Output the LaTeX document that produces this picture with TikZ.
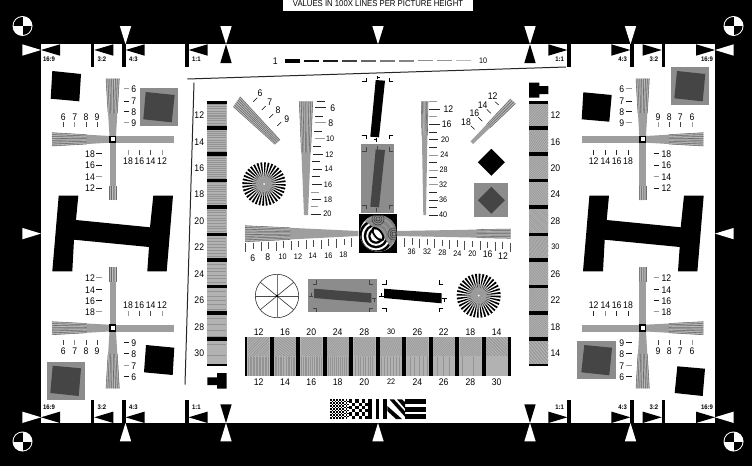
\documentclass[tikz,border=0pt]{standalone}
\usepackage{fontspec}
\usepackage{graphicx}
\setmainfont{Liberation Sans}[FakeStretch=0.9]
\usetikzlibrary{calc}
\definecolor{chart}{gray}{.62}
\definecolor{panel}{gray}{.55}
\definecolor{inner}{gray}{.27}
\newcount\nn
\tikzset{
  numlab/.style={inner sep=0pt,font=\fontsize{9.6}{10}\selectfont,text=black},
  smalllab/.style={inner sep=0pt,font=\fontsize{8}{9}\selectfont,text=black},
  ratlab/.style={inner sep=0pt,font=\fontsize{6.6}{7}\selectfont\bfseries,text=black},
  tickln/.style={line width=.75pt},
  framel/.style={line width=1pt,black!85},
  markk/.style={line width=.8pt},
}
\newcommand\lbl[4][numlab]{\global\advance\nn by 1 \node[#1] (n\the\nn) at (#2,#3) {#4};}
\newcommand\hrow[4]{\foreach \px/\tx/\sh in {#1}{\lbl{\px}{#2}{\tx}\draw[tickln,black!\sh] (\px,#3) -- (\px,#4);}}
\newcommand\vrow[4]{\foreach \py/\tx/\sh in {#1}{\lbl{#2}{\py}{\tx}\draw[tickln,black!\sh] (#3,\py) -- (#4,\py);}}
\newcommand\regmark[2]{%
  \fill[white] (#1,#2) circle (10pt);
  \begin{scope}\clip (#1,#2) circle (9pt);
    \fill[black] (#1-10,#2-10) rectangle (#1,#2);
    \fill[black] (#1,#2) rectangle (#1+10,#2+10);
  \end{scope}}
\newcommand\cwedge[6]{%
  \coordinate (wa) at #1; \coordinate (wb) at #2; \coordinate (wc) at #3; \coordinate (wd) at #4;
  \fill[chart] (wa)--(wb)--(wc)--(wd)--cycle;
  \foreach \k in {0,...,#5}{%
    \pgfmathsetmacro\tv{\k/#5}
    \pgfmathtruncatemacro\md{mod(\k,2)}
    \pgfmathtruncatemacro\sh{\md==0?58:25}
    \coordinate (wp) at ($(wa)!\tv!(wb)$);
    \coordinate (wq) at ($(wd)!\tv!(wc)$);
    \draw[line width=.55pt,black!\sh] (wp) -- ($(wp)!#6!(wq)$);}}
\newcommand\hcell[6]{%
  \begin{scope}
    \clip (#1,#2) rectangle (#3,#4);
    \fill[black!42] (#1,#2) rectangle (#3,#4);
    \pgfmathsetmacro\cxx{(#1+#3)/2}
    \pgfmathsetmacro\cyy{(#2+#4)/2}
    \pgfmathtruncatemacro\nl{30/#6}
    \begin{scope}[shift={(\cxx,\cyy)},rotate=#5]
      \foreach \k in {-\nl,...,\nl}{\draw[line width=#6*.5pt,black!30] (-40,\k*#6) -- (40,\k*#6);}
    \end{scope}
  \end{scope}}
\newcommand\sstar[3]{%
  \fill[white] (#1,#2) circle (#3 pt);
  \foreach \a in {0,10,...,350}{%
    \fill[black] (#1,#2) -- ({#1+#3*cos(\a)},{#2+#3*sin(\a)}) -- ({#1+#3*cos(\a+5)},{#2+#3*sin(\a+5)}) -- cycle;}
  \fill[chart,opacity=.55] (#1,#2) circle (12pt);
  \fill[chart,opacity=.9] (#1,#2) circle (8pt);
  \fill[white] (#1,#2) circle (1pt);}
\newcommand\cmk[5]{\draw[markk,#5] (#1+#3,#2) -- (#1,#2) -- (#1,#2+#4);}
\newcommand\centerbox[2]{\fill[black] (#1-3.7,#2-3.7) rectangle (#1+3.7,#2+3.7);\fill[white] (#1-2,#2-2) rectangle (#1+2,#2+2);}
\begin{document}
\begin{tikzpicture}[x=1pt,y=-1pt]
\useasboundingbox (0,0) rectangle (752,466);
\fill[black] (0,0) rectangle (752,466);
\fill[white] (41,44.3) rectangle (715,423);
% banner
\fill[white] (283,0) rectangle (472.7,10.7);
\lbl[inner sep=0pt,font=\fontsize{8.6}{9}\selectfont]{378}{4}{VALUES IN 100X LINES PER PICTURE HEIGHT}
% registration marks
\regmark{22.5}{26} \regmark{733.5}{26} \regmark{22.5}{441.5} \regmark{733.5}{441.5}
% outer white triangles, top and bottom
\foreach \px in {125.5,226,378,530,630.5}{%
  \fill[white] (\px-5.7,26) -- (\px+5.7,26) -- (\px,44.3) -- cycle;
  \fill[white] (\px-5.7,441.4) -- (\px+5.7,441.4) -- (\px,423) -- cycle;}
\foreach \px in {226,530}{%
  \fill[black] (\px-5.7,63) -- (\px+5.7,63) -- (\px,44.3) -- cycle;
  \fill[black] (\px-5.7,404.3) -- (\px+5.7,404.3) -- (\px,423) -- cycle;}
% side triangles
\foreach \py in {50,233.6,417.3}{%
  \fill[white] (22.3,\py-5.7) -- (22.3,\py+5.7) -- (41,\py) -- cycle;
  \fill[white] (733.7,\py-5.7) -- (733.7,\py+5.7) -- (715,\py) -- cycle;}
% format marks
\foreach \py/\ly/\bb/\be in {50/59/44.3/67.3,417.3/407.7/400/423}{%
  \fill[black] (41,\py) -- (60,\py-5.7) -- (60,\py+5.7) -- cycle;
  \fill[black] (715,\py) -- (696,\py-5.7) -- (696,\py+5.7) -- cycle;
  \lbl[ratlab]{49}{\ly}{16:9}
  \lbl[ratlab]{707}{\ly}{16:9}
  \foreach \bx/\tx in {91/3:2,122.3/4:3,185.3/1:1}{%
    \fill[black] (\bx,\bb) rectangle (\bx+3.3,\be);
    \fill[black] (\bx+3.3,\py) -- (\bx+22.3,\py-5.7) -- (\bx+22.3,\py+5.7) -- cycle;
    \lbl[ratlab]{\bx+11}{\ly}{\tx}
    \fill[black] (756-\bx,\bb) rectangle (756-\bx-3.3,\be);
    \fill[black] (756-\bx-3.3,\py) -- (756-\bx-22.3,\py-5.7) -- (756-\bx-22.3,\py+5.7) -- cycle;
    \lbl[ratlab]{756-\bx-11}{\ly}{\tx}}}
% scale row
\lbl{275.3}{61}{1}
\lbl[smalllab]{483}{61}{10}
\foreach \i/\w/\sh in {0/3.6/100,1/1.7/95,2/1.3/90,3/1.2/75,4/1.2/60,5/1.2/52,6/1.2/48,7/1.1/45,8/1.1/42,9/1.1/28}{%
  \draw[line width=\w pt,black!\sh] (285+19*\i,60.9) -- (300+19*\i,60.9);}
% frame lines
\draw[framel] (187.3,79) -- (566,67);
\draw[framel] (194,82.7) -- (185,384.7);
% big H shapes
\foreach \dx in {0,530.7}{%
  \fill[black] (58.7+\dx,195.7) -- (78.3+\dx,195.7) -- (76+\dx,220) -- (150+\dx,227.3) -- (153.3+\dx,195.7) -- (173+\dx,195.7) -- (166.7+\dx,271.3) -- (147.3+\dx,271.3) -- (149+\dx,247) -- (74+\dx,239.7) -- (72.3+\dx,271.3) -- (52.3+\dx,271.3) -- cycle;}
% ---- top-left quadrant
\fill[black] (52.3,71) -- (81,74) -- (79.3,101.3) -- (50.7,98.7) -- cycle;
\fill[panel] (140,88) rectangle (178,126);
\fill[inner] (145.7,92) -- (174.7,95) -- (171.7,122.3) -- (143.3,119.3) -- cycle;
\cwedge{(106,78.7)}{(119.3,78.7)}{(116,136)}{(109.5,136)}{14}{.6}
\cwedge{(109.5,200)}{(116,200)}{(116,143)}{(109.5,143)}{6}{.25}
\cwedge{(52,132.7)}{(52,146)}{(109.5,142.7)}{(109.5,136)}{14}{.6}
\fill[chart] (116,136) rectangle (174,142.7);
\centerbox{112.7}{139.3}
\hrow{63.3/6/75,74.7/7/45,86/8/75,97/9/75}{116.7}{122}{127}
\hrow{128/18/40,139.3/16/70,150.7/14/70,162/12/40}{160.7}{150.3}{155.3}
\vrow{88.7/6/40,101/7/90,111.7/8/90,122.7/9/40}{133.7}{123.7}{129.3}
\vrow{153.7/18/90,165/16/90,176.7/14/40,188/12/90}{90}{96}{101.7}
% ---- top-right quadrant
\fill[black] (583.3,92.3) -- (611.7,95) -- (609.3,121.7) -- (581.7,119.3) -- cycle;
\fill[panel] (670.7,67.3) rectangle (708.7,105);
\fill[inner] (677,71) -- (705.3,74) -- (702.7,101.3) -- (674.3,98.3) -- cycle;
\cwedge{(636,78.7)}{(649.3,78.7)}{(646,136)}{(639.3,136)}{14}{.6}
\cwedge{(639.3,200)}{(646,200)}{(646,143)}{(639.3,143)}{6}{.25}
\cwedge{(703.3,132.7)}{(703.3,146)}{(646,142.7)}{(646,136)}{14}{.6}
\fill[chart] (582,136) rectangle (639.3,142.7);
\centerbox{642.7}{139.3}
\hrow{658/9/40,669.3/8/75,680.3/7/75,692/6/40}{116.7}{122}{127}
\hrow{593.7/12/85,605.3/14/85,616.7/16/85,628/18/85}{160.7}{150.3}{155.3}
\vrow{88.7/6/40,101/7/90,111.7/8/90,122.7/9/40}{621.7}{626}{631.7}
\vrow{153.7/18/90,165/16/90,176.7/14/40,188/12/90}{666.3}{653.7}{659.3}
% ---- bottom-left quadrant
\fill[panel] (46.7,362) rectangle (85,399.7);
\fill[inner] (52.7,365.7) -- (81,368.3) -- (78.7,396) -- (50.3,393) -- cycle;
\fill[black] (146,345) -- (174.3,347.7) -- (172.7,375) -- (144,372.3) -- cycle;
\cwedge{(106,388.3)}{(119.3,388.3)}{(116,331.5)}{(109.5,331.5)}{14}{.6}
\cwedge{(109.5,267.3)}{(116,267.3)}{(116,324.7)}{(109.5,324.7)}{6}{.25}
\cwedge{(52,321.7)}{(52,334.7)}{(109.5,331.5)}{(109.5,324.7)}{14}{.6}
\fill[chart] (116,324.7) rectangle (174,331.5);
\centerbox{112.7}{328}
\hrow{63.3/6/75,74.7/7/45,86/8/75,97/9/75}{350.7}{339.7}{345.3}
\hrow{128/18/40,139.3/16/70,150.7/14/70,162/12/40}{304.7}{311.3}{316.3}
\vrow{342.7/9/90,353.7/8/90,365.7/7/40,376.7/6/90}{133.7}{123.7}{129.3}
\vrow{277.7/12/40,289.7/14/90,300.7/16/90,311.7/18/40}{90}{96}{101.7}
% ---- bottom-right quadrant
\fill[panel] (577.3,341) rectangle (616,379);
\fill[inner] (584.3,345) -- (612,347.7) -- (609.3,375.3) -- (581.3,372.3) -- cycle;
\fill[black] (677.3,366.3) -- (705,368.7) -- (702.7,396) -- (674.7,393) -- cycle;
\cwedge{(636,388.3)}{(649.3,388.3)}{(646,331.5)}{(639.3,331.5)}{14}{.6}
\cwedge{(639.3,267.3)}{(646,267.3)}{(646,324.7)}{(639.3,324.7)}{6}{.25}
\cwedge{(703.3,321.7)}{(703.3,334.7)}{(646,331.5)}{(646,324.7)}{14}{.6}
\fill[chart] (582,324.7) rectangle (639.3,331.5);
\centerbox{642.7}{328}
\hrow{658/9/75,669.3/8/75,680.3/7/75,692/6/40}{350.7}{339.7}{345.3}
\hrow{593.7/12/85,605.3/14/45,616.7/16/85,628/18/85}{304.7}{311.3}{316.3}
\vrow{342.7/9/90,353.7/8/90,365.7/7/40,376.7/6/90}{621.7}{626}{631.7}
\vrow{277.7/12/40,289.7/14/90,300.7/16/90,311.7/18/40}{666.3}{653.7}{659.3}
% ---- left strip
\foreach \ya/\yb/\pt in {103.7/126/2.4,130/152.3/2.2,156/178.7/2,182.3/205.3/1.8,209/233/1.6,235.7/258/1.5,262/284.7/1.4,288.3/311/1.3,315/337.3/1.2,341.3/363.7/1.1}{\hcell{207}{\ya}{226.7}{\yb}{0}{\pt}}
\foreach \ya/\yb in {101/103.7,126/130,152.3/156,178.7/182.3,205.3/209,233/235.7,258/262,284.7/288.3,311/315,337.3/341.3,363.7/365.7}{\fill[black] (207,\ya) rectangle (226.7,\yb);}
\foreach \py/\tx in {114.7/12,141.7/14,168/16,194/18,220.7/20,247/22,273.7/24,300/26,327/28,353/30}{\lbl{199.3}{\py}{\tx}}
% ---- right strip
\foreach \ya/\yb/\an/\pt in {103.7/126/45/1.8,130/152.3/55/1.8,156/178.7/-35/1.5,182.3/205.3/35/1.3,209/233/-45/1.2,235.7/258/-20/1.2,262/284.7/30/1.3,288.3/311/-30/1.4,315/337.3/40/1.6,341.3/363.7/-50/2.4}{\hcell{529}{\ya}{548.3}{\yb}{\an}{\pt}}
\foreach \ya/\yb in {101/103.7,126/130,152.3/156,178.7/182.3,205.3/209,233/235.7,258/262,284.7/288.3,311/315,337.3/341.3,363.7/365.7}{\fill[black] (529,\ya) rectangle (548.3,\yb);}
\foreach \py/\tx in {114.7/12,141.7/16,168/20,194/24,220.7/28,300/22,327/18,353/14,273.7/26}{\lbl{555.3}{\py}{\tx}}
\lbl[smalllab]{555.3}{247}{30}
% stepped marks
\fill[black] (529,82.7) -- (539.3,82.7) -- (539.3,86) -- (548.3,86) -- (548.3,94) -- (539.3,94) -- (539.3,97.7) -- (529,97.7) -- cycle;
\fill[black] (217,373) -- (226.7,373) -- (226.7,388.7) -- (217,388.7) -- (217,385) -- (207.3,385) -- (207.3,377.3) -- (217,377.3) -- cycle;
% ---- upper middle: left fan
\cwedge{(233.3,106.7)}{(240,96.7)}{(280,140)}{(275,144.3)}{12}{1}
\foreach \pa/\pb/\qa/\qb/\lx/\ly/\tx in {253.3/101.7/257.3/97.7/260/92.7/6,261.7/110/265.7/106/269.7/102.3/7,269.3/118/273.3/114/278/109.7/8,277.3/126/281.3/122/286.7/118.7/9}{%
  \draw[tickln,line width=.5pt] (\pa,\pb) -- (\qa,\qb); \lbl{\lx}{\ly}{\tx}}
\sstar{264}{184}{21.7}
% vertical resolution wedge, left
\cwedge{(299.3,101.3)}{(312.7,101.3)}{(308,215)}{(304,215)}{14}{.45}
\foreach \py/\tx/\sh/\lx in {107.7/6/85/332.7,122.7/8/40/330.7}{\draw[tickln,black!\sh] (315,\py) -- (326,\py);\lbl{\lx}{\py}{\tx}}
\foreach \py/\tx/\sh/\lx/\lb in {138.3/10/40/330/315,154.3/12/85/329.3/313,169/14/85/328.7/312.5,184.3/16/85/328/312,199.3/18/85/328/311.5,214/20/85/327.3/311}{\draw[tickln,black!\sh] (\lb,\py) -- (\lb+9.5,\py);\lbl[smalllab]{\lx}{\py}{\tx}}
\foreach \py/\ax/\bx/\sh in {101.3/316.7/325/85,116.3/315/323/85,131.3/314/322/85,146.3/312.5/321/85,161.3/312/320/85,176.3/311.5/319.5/85,192/311/318.5/40,206.7/310.5/318/40}{\draw[tickln,black!\sh] (\ax,\py) -- (\bx,\py);}
% vertical resolution wedge, right
\cwedge{(421.3,101.3)}{(428,101.3)}{(426,215)}{(423.3,215)}{10}{.3}
\foreach \py/\tx/\sh/\lx in {109/12/85/448.3,124.3/16/85/446.7}{\draw[tickln,black!\sh] (429.3,\py) -- (440,\py);\lbl{\lx}{\py}{\tx}}
\foreach \py/\tx/\sh/\lx in {139.7/20/85/445,155/24/40/444.3,170/28/40/443.7,184.7/32/40/443,200/36/85/443,215/40/85/443}{\draw[tickln,black!\sh] (429.3,\py) -- (438,\py);\lbl[smalllab]{\lx}{\py}{\tx}}
\foreach \py/\sh in {101.7/40,116.7/40,132/85,147.3/85,162/85,177.3/85,192.7/85,207.3/85}{\draw[tickln,black!\sh] (429.3,\py) -- (437.3,\py);}
% right fan
\cwedge{(510.5,99)}{(515.5,103.5)}{(473,144)}{(470.5,141.5)}{6}{.6}
\foreach \pa/\pb/\qa/\qb/\lx/\ly/\tx in {495/101.7/498.7/105/492.7/96/12,486.7/109.3/490.7/113.3/482.7/104.7/14,478.3/117.3/482.3/121.3/474.3/112.7/16,470.7/125.7/474.7/129.3/466/121.7/18}{%
  \draw[tickln,line width=.5pt] (\pa,\pb) -- (\qa,\qb); \lbl{\lx}{\ly}{\tx}}
% diamonds
\fill[black] (491.3,148.8) -- (504.8,162.3) -- (491.3,175.8) -- (477.8,162.3) -- cycle;
\fill[panel] (474.3,183.3) rectangle (508.3,217.3);
\fill[inner] (491.3,186.8) -- (504.8,200.3) -- (491.3,213.8) -- (477.8,200.3) -- cycle;
% slanted rects, vertical
\fill[black] (375.7,80) -- (385,80.7) -- (379,137.3) -- (370.3,136.7) -- cycle;
\cmk{366.7}{81.7}{-5}{-3.7}{black}
\cmk{389.3}{81.7}{4}{-3.7}{black}
\cmk{366.7}{135.3}{-5}{3.7}{black}
\cmk{389.3}{135.3}{4}{3.7}{black}
\draw[markk] (377,76.3) -- (377,79.3) (377,77.6) -- (380,77.6);
\draw[markk] (376.5,137.6) -- (376.5,142) (373.8,139.5) -- (376.5,139.5);
\fill[panel] (361,144) rectangle (394.3,212.7);
\fill[inner] (375.7,149.3) -- (385,150) -- (379,207.3) -- (370.3,206.7) -- cycle;
\cmk{366.7}{151}{-5}{-3.7}{inner}
\cmk{389.3}{151}{4}{-3.7}{inner}
\cmk{366.7}{205}{-5}{3.7}{inner}
\cmk{389.3}{205}{4}{3.7}{inner}
\draw[markk,inner] (377,146) -- (377,149);
\draw[markk,inner] (376.5,207.5) -- (376.5,211.5);
% long horizontal wedges
\cwedge{(245,225.7)}{(245,241.7)}{(358.3,236)}{(358.3,231)}{18}{.4}
\cwedge{(510.7,229)}{(510.7,238.3)}{(396.7,236)}{(396.7,231)}{12}{.3}
\foreach \i in {0,...,14}{%
  \pgfmathsetmacro\xa{245.7+7.55*\i}
  \pgfmathsetmacro\ya{243-.33*\i}
  \pgfmathtruncatemacro\lg{mod(\i,2)==0?1:0}
  \pgfmathsetmacro\yb{\ya+(\lg==1?9:6.5)}
  \draw[tickln,line width=.6pt,black!70] (\xa,\ya) -- (\xa,\yb);
  \pgfmathsetmacro\xc{404.3+7.55*\i}
  \pgfmathsetmacro\yc{238+.33*\i}
  \pgfmathsetmacro\yd{\yc+(\lg==1?9:6.5)}
  \draw[tickln,line width=.6pt,black!70] (\xc,\yc) -- (\xc,\yd);}
\lbl{252.7}{258.3}{6}
\lbl{267.7}{257.3}{8}
\foreach \px/\py/\tx in {282.7/257/10,298/256.7/12,312.7/255.7/14,328.3/255.3/16,343.3/255/18,411.7/252/36,427/252/32,442.3/253/28,457.3/254/24,472.3/254/20}{\lbl[smalllab]{\px}{\py}{\tx}}
\lbl{487.7}{254.5}{16}
\lbl{503}{256}{12}
% central target
\fill[black] (358.7,214.3) rectangle (396.7,252.7);
\begin{scope}
  \clip (378.3,233.3) circle (18.3pt);
  \fill[white] (360,215) rectangle (397,252);
  \foreach \r/\cl in {22/black,19.5/white,17/black,14.3/white,12.3/black,9.8/white,7.8/black,5.6/white}{\fill[\cl] (376,236) circle (\r pt);}
  \fill[panel,opacity=.93] (355,216) -- (398,216) -- (398,252) -- (390,246) -- (380,232) -- (366,222) -- cycle;
  \foreach \r in {6,4,2}{\draw[inner,line width=.7pt] (378,219) circle (\r pt);\draw[inner,line width=.7pt] (394,234) circle (\r pt);}
  \fill[black,rotate around={40:(378,234)}] (378,234) ellipse (4.5pt and 8.5pt);
  \fill[white,rotate around={40:(378,234)}] (378,234) ellipse (2.5pt and 6pt);
\end{scope}
% wheel
\draw[line width=.6pt,black!80] (277,296) circle (21.7pt);
\draw[line width=.6pt,black!70] (255.3,296) -- (298.7,296);
\draw[line width=.8pt,black!55] (277,274.3) -- (277,317.7);
\draw[line width=.6pt,black!80] (260.2,282.2) -- (293.8,309.8) (293.8,282.2) -- (260.2,309.8);
\fill[black] (277,296) circle (1.3pt);
% horizontal slanted rects
\fill[panel] (308.3,279) rectangle (377,311.7);
\fill[inner] (314,288.7) -- (371.3,293.3) -- (371.3,302.7) -- (314,298) -- cycle;
\cmk{316.7}{284}{-4}{-3.7}{inner}
\cmk{369.3}{284}{4}{-3.7}{inner}
\cmk{316.7}{308}{-4}{3.7}{inner}
\cmk{369.3}{308}{4}{3.7}{inner}
\draw[markk,inner] (309,296) -- (313,296) (311,293) -- (311,296);
\draw[markk,inner] (371.8,298) -- (375.5,298) (374,298) -- (374,301.5);
\fill[black] (384,288.7) -- (441.7,293.3) -- (441.7,303.3) -- (384,298) -- cycle;
\cmk{386.7}{284}{-5}{-3.7}{black}
\cmk{439.3}{284}{4}{-3.7}{black}
\cmk{386.7}{308}{-5}{3.7}{black}
\cmk{439.3}{308}{4}{3.7}{black}
\draw[markk] (378.5,296) -- (383.5,296) (381,293) -- (381,296);
\draw[markk] (442,298) -- (447,298) (444.6,298) -- (444.6,302);
\sstar{478.7}{295.7}{22}
% bar block
\foreach \xa/\xb/\an/\pt/\pb in {247.3/269.7/45/2/3,274/296/-38/2/2.6,300.3/322.7/38/1.5/2.2,326.7/349/-35/1.3/2,353.3/375.7/30/1.2/1.7,380/402.3/-30/1.1/1.5,406.3/428.7/35/1.2/1.3,432.7/455/-38/1.4/1.2,459.3/481.7/40/1.6/1.1,485.7/508/-45/2.2/1}{%
  \hcell{\xa}{337.3}{\xb}{356.5}{\an}{\pt}
  \hcell{\xa}{356.9}{\xb}{375.7}{90}{\pb}}
\foreach \xa/\xb in {245/247.3,269.7/274,296/300.3,322.7/326.7,349/353.3,375.7/380,402.3/406.3,428.7/432.7,455/459.3,481.7/485.7,508/510.7}{\fill[black] (\xa,337.3) rectangle (\xb,375.7);}
\foreach \px/\ta/\tb in {258.7/12/12,285/16/14,311.3/20/16,337.7/24/18,364.3/28/20,417.3/26/24,443.7/22/26,470.3/18/28,496.7/14/30}{\lbl{\px}{331.7}{\ta}\lbl{\px}{382}{\tb}}
\lbl[smalllab]{391}{331.7}{30}
\lbl[smalllab]{391}{382}{22}
% logo
\foreach \i in {0,...,11}{\foreach \j in {0,...,12}{%
  \pgfmathtruncatemacro\pr{mod(\i+\j,2)}
  \ifnum\pr=0 \fill[black] (330+\i*1.55,399.4+\j*1.5) rectangle +(1.55,1.5);\fi}}
\foreach \i in {0,...,5}{\foreach \j in {0,...,5}{%
  \pgfmathtruncatemacro\pr{mod(\i+\j,2)}
  \ifnum\pr=0 \fill[black] (348.6+\i*3.3,399.4+\j*3.27) rectangle +(3.3,3.27);\fi}}
\fill[black] (368,399.4) rectangle (371.7,419);
\fill[black] (375.7,399.4) rectangle (379.3,419);
\fill[black] (382.7,399.4) rectangle (387.3,419);
\begin{scope}
  \clip (387.3,399.4) rectangle (405,419);
  \fill[black] (389.5,399.4) -- (394,399.4) -- (412,419) -- (407,419) -- cycle;
  \fill[black] (397,399.4) -- (402,399.4) -- (418,414) -- (418,419) -- (414,419) -- cycle;
  \fill[black] (387.3,406) -- (402,419) -- (396,419) -- (387.3,411) -- cycle;
\end{scope}
\fill[black] (405,399.4) rectangle (425.7,404);
\fill[black] (405,406.8) rectangle (425.7,411.7);
\fill[black] (405,414.2) rectangle (425.7,419);
\end{tikzpicture}
\end{document}
